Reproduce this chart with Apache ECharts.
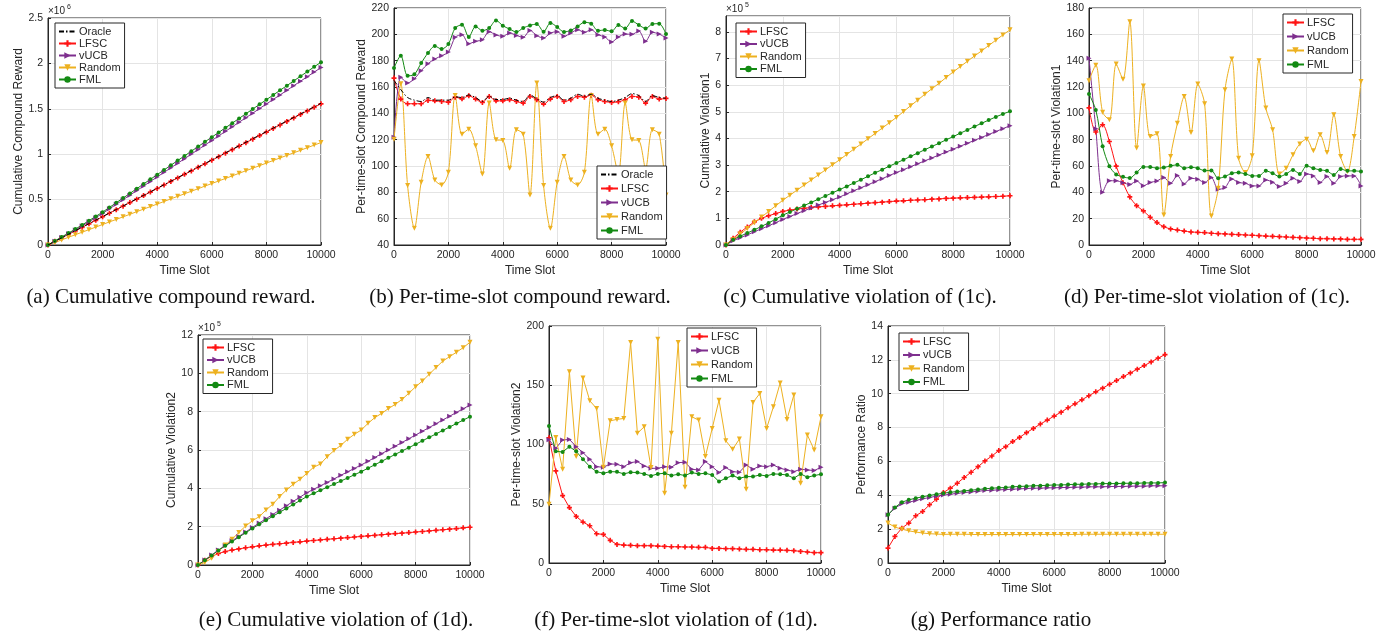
<!DOCTYPE html>
<html>
<head>
<meta charset="utf-8">
<title>Results</title>
<script src="https://cdn.jsdelivr.net/npm/echarts@6/dist/echarts.min.js"></script>
<style>
html,body{margin:0;padding:0;background:#fff;}
#chart{width:1399px;height:639px;}
</style>
</head>
<body>
<div id="chart"></div>
<script>
// time slots where the curves are sampled
const slots = [0,250,500,750,1000,1250,1500,1750,2000,2250,2500,2750,3000,3250,3500,3750,4000,4250,4500,4750,5000,
  5250,5500,5750,6000,6250,6500,6750,7000,7250,7500,7750,8000,8250,8500,8750,9000,9250,9500,9750,10000];

// (a) cumulative compound reward, x10^6
const rewCumOracle = [0,0.040,0.079,0.118,0.157,0.196,0.235,0.274,0.313,0.352,0.391,0.430,0.469,0.508,0.547,0.586,0.625,0.664,0.703,0.742,0.781,0.820,0.859,0.898,0.937,0.976,1.015,1.054,1.093,1.132,1.171,1.210,1.249,1.288,1.327,1.366,1.405,1.444,1.483,1.522,1.561];
const rewCumLFSC   = [0,0.040,0.078,0.117,0.156,0.195,0.233,0.272,0.311,0.350,0.389,0.428,0.467,0.505,0.544,0.583,0.622,0.661,0.700,0.739,0.778,0.816,0.855,0.894,0.933,0.972,1.011,1.050,1.089,1.127,1.166,1.205,1.244,1.283,1.322,1.361,1.400,1.438,1.477,1.516,1.555];
const rewCumVUCB   = [0,0.041,0.082,0.123,0.165,0.210,0.255,0.301,0.348,0.398,0.448,0.499,0.549,0.599,0.649,0.699,0.750,0.800,0.850,0.900,0.950,1.001,1.051,1.101,1.151,1.201,1.252,1.302,1.352,1.402,1.452,1.503,1.553,1.603,1.653,1.703,1.754,1.804,1.854,1.904,1.954];
const rewCumRandom = [0,0.028,0.056,0.085,0.113,0.141,0.169,0.197,0.226,0.254,0.282,0.310,0.338,0.367,0.395,0.423,0.451,0.479,0.508,0.536,0.564,0.592,0.620,0.649,0.677,0.705,0.733,0.761,0.790,0.818,0.846,0.874,0.902,0.931,0.959,0.987,1.015,1.043,1.072,1.100,1.128];
const rewCumFML    = [0,0.044,0.089,0.131,0.175,0.221,0.268,0.315,0.362,0.414,0.465,0.517,0.568,0.620,0.672,0.723,0.775,0.826,0.878,0.930,0.981,1.033,1.084,1.136,1.188,1.239,1.291,1.342,1.394,1.446,1.497,1.549,1.600,1.652,1.704,1.755,1.807,1.858,1.910,1.962,2.013];

// (b) per-time-slot compound reward
const rewSlotOracle = [165,158,152,150,149,152,150,150,150,152.5,152,154,152,149,153,150.5,150.5,151.5,150,149,154,151,148.5,152,153.5,150,151.5,154.5,153,154.5,151.5,150,149,150,152,155,153.5,149,153.5,152,151.5];
const rewSlotLFSC   = [166.8,150.8,147.3,147.3,147.3,149.8,149.5,149,148.5,152.3,151,153.3,150.8,148.3,152.8,149.5,149.5,150.3,149,147.8,152.8,150.3,147,150.8,152.8,149,150.3,152.8,152.3,153.8,150.3,149,148.3,148.8,150.3,152.8,152.3,147.8,152.8,150.8,151.3];
const rewSlotVUCB   = [121.9,167.5,163,166.3,172.4,177.7,181.2,183.8,186.5,197.7,199.7,192.9,194.7,195.9,202,199.5,198.5,201,199.2,197.7,203,199,197.2,201,202,198.5,201,203.5,201.5,203.5,199.7,198,194.2,198,200.2,200,202.5,194.7,201.5,200.2,197.2];
const rewSlotRandom = [120.4,162.5,85.1,52.7,87.7,107.2,89.4,85.6,95.3,153.6,124.2,128,115.3,94,147.8,119.9,119.4,98.3,127.5,124.2,78,163,85.1,52.7,87.7,107.2,89.4,85.6,95.3,153.6,124.2,128,115.3,94,147.8,119.9,119.4,98.3,127.5,124.2,78];
const rewSlotFML    = [174.4,183.8,168.5,169.6,178.2,185.8,191.1,188.8,192.6,204.8,207.3,198,206,202.8,204.8,210.6,206.6,204,201.8,204.8,206.8,207.8,202,208.6,205.6,201.8,203,206,209.1,208.1,202.8,203.3,202.3,207,204.5,210.1,207.1,204.5,207.8,208.1,200.2];

// (c) cumulative violation of (1c), x10^5
const vio1CumLFSC   = [0,0.25,0.48,0.68,0.87,1.0,1.1,1.18,1.26,1.31,1.35,1.38,1.41,1.43,1.45,1.47,1.49,1.51,1.53,1.55,1.57,1.59,1.61,1.63,1.65,1.66,1.68,1.69,1.7,1.72,1.73,1.75,1.76,1.77,1.78,1.79,1.8,1.81,1.82,1.83,1.85];
const vio1CumVUCB   = [0,0.16,0.27,0.38,0.5,0.61,0.72,0.84,0.96,1.07,1.18,1.29,1.39,1.5,1.6,1.7,1.8,1.92,2.04,2.15,2.26,2.38,2.49,2.61,2.72,2.83,2.94,3.05,3.16,3.27,3.38,3.49,3.6,3.71,3.82,3.93,4.04,4.15,4.26,4.37,4.48];
const vio1CumRandom = [0,0.2,0.41,0.62,0.84,1.05,1.26,1.47,1.68,1.87,2.06,2.25,2.44,2.63,2.82,3.01,3.2,3.4,3.6,3.79,3.99,4.19,4.39,4.59,4.79,5.01,5.23,5.44,5.66,5.87,6.07,6.29,6.5,6.7,6.9,7.1,7.29,7.49,7.69,7.89,8.08];
const vio1CumFML    = [0,0.2,0.33,0.45,0.57,0.7,0.83,0.97,1.12,1.24,1.36,1.48,1.6,1.72,1.84,1.96,2.08,2.2,2.33,2.45,2.58,2.71,2.83,2.96,3.08,3.2,3.33,3.45,3.58,3.7,3.82,3.95,4.07,4.2,4.32,4.45,4.57,4.69,4.81,4.92,5.02];

// (d) per-time-slot violation of (1c)
const vio1SlotLFSC   = [104.2,85.8,91.3,78.6,59.9,47.3,36.5,29.9,25.9,21.1,17,13.9,12.2,11.4,10.6,9.9,9.6,9.4,8.9,8.6,8.4,8.1,7.9,7.6,7.4,7.1,6.8,6.6,6.3,6.1,5.8,5.6,5.3,5.1,4.8,4.8,4.6,4.6,4.3,4.3,4.3];
const vio1SlotVUCB   = [141.9,88.3,40,48.8,48.8,47.3,46,48.6,45,47.5,48.7,51.2,46.9,52.7,46.4,50.7,49.9,47.4,51.2,42.3,43.6,50.2,47.4,46.9,44.9,44.9,49.4,47.7,44.4,46.9,50.7,48.2,54,52.5,47.4,52,46.9,52,52.5,52.5,44.9];
const vio1SlotRandom = [124.8,136.6,100.9,95.1,137.4,125.8,169.6,73.7,120.8,82.5,84.5,22.8,67.2,92.5,112.8,85.4,122.2,107.3,22.1,43.1,117.9,141.2,65.9,55,67.7,140,104,87.5,54,58.3,68.5,76.8,80.4,71.5,83.7,70.2,98.9,67.2,55.8,82.4,124.2];
const vio1SlotFML    = [114.7,102.6,75,59.9,53.6,51.8,50.8,55,59.3,59.3,58.3,58.8,60.1,60.9,58.3,59.1,58.3,56.5,56.5,50.7,52,54.5,55,54,52.5,52.5,56.3,54.5,52,54,57,54,60.1,58.3,57,56.3,53.2,57.8,56.3,56.3,55.8];

// (e) cumulative violation of (1d), x10^5
const vio2CumLFSC   = [0,0.25,0.45,0.6,0.7,0.78,0.84,0.9,0.95,1.0,1.04,1.08,1.11,1.14,1.18,1.21,1.25,1.28,1.31,1.34,1.37,1.4,1.43,1.46,1.49,1.52,1.55,1.58,1.61,1.64,1.66,1.69,1.72,1.75,1.78,1.81,1.84,1.87,1.9,1.94,1.97];
const vio2CumVUCB   = [0,0.26,0.52,0.78,1.02,1.26,1.49,1.72,1.96,2.19,2.41,2.64,2.86,3.09,3.32,3.54,3.77,3.95,4.13,4.31,4.49,4.68,4.86,5.04,5.22,5.41,5.61,5.81,6.0,6.2,6.39,6.59,6.78,6.98,7.17,7.37,7.57,7.76,7.96,8.15,8.35];
const vio2CumRandom = [0,0.13,0.35,0.7,1.04,1.34,1.7,2.03,2.31,2.52,2.87,3.17,3.57,3.91,4.21,4.47,4.78,5.1,5.27,5.65,5.97,6.24,6.56,6.82,7.04,7.39,7.69,7.91,8.16,8.38,8.64,8.96,9.3,9.6,9.95,10.3,10.64,10.87,11.1,11.34,11.62];
const vio2CumFML    = [0,0.25,0.5,0.76,1.0,1.22,1.45,1.68,1.91,2.12,2.33,2.54,2.75,2.95,3.16,3.36,3.57,3.74,3.9,4.06,4.22,4.38,4.54,4.71,4.87,5.05,5.23,5.41,5.59,5.77,5.95,6.12,6.3,6.48,6.66,6.84,7.02,7.2,7.38,7.56,7.74];

// (f) per-time-slot violation of (1d)
const vio2SlotLFSC   = [105.7,77.7,56.9,46.8,39.3,34.5,31.4,24.7,24.1,19.1,15.7,15.1,14.9,14.6,14.6,14.6,14.3,14,13.7,13.7,13.5,13.5,13.2,13.2,12.3,12.3,12.1,12.1,11.8,11.5,11.5,11.2,11.2,10.9,10.9,10.7,10.4,9.8,9.3,8.7,8.7];
const vio2SlotVUCB   = [104,96.8,103.8,104.3,98.2,93.1,87.5,81.3,80.8,83.6,83.3,81.3,84.7,85.6,81.9,79.9,79.9,81.3,80.8,84.7,85,79.1,78.5,85.6,81.3,76.3,80.5,77.1,76.6,82.7,79.1,81.9,81.3,82.7,79.9,78.5,77.1,79.1,78.5,78,80.8];
const vio2SlotRandom = [49.6,106,79.1,161.3,89.8,156.2,136.9,130.4,80.8,120,121.2,122,186,109.4,115,80.5,188.8,58.9,109.4,186,64,123.4,120.6,89.8,113.6,137.4,103.2,95.9,104.6,62.3,135.5,143.1,113.6,131.8,152,121.2,141.7,67.3,108,95.4,123.4];
const vio2SlotFML    = [115.6,94.2,93.7,98.2,94.2,87.5,81.3,77.1,75.7,77.1,76.9,75.2,76.6,76.3,75.2,73.5,75.2,75.7,73.8,74.9,73.8,76.3,75.2,75.7,74.3,68.7,71.5,73.8,71.5,72.9,72.9,74.3,73.5,75.2,74.9,74.3,71.5,75.2,72.4,73.8,74.9];

// (g) performance ratio
const ratioLFSC   = [0.88,1.57,2.06,2.36,2.79,3.04,3.44,3.77,4.16,4.42,4.71,5.05,5.36,5.69,6.03,6.32,6.64,6.87,7.17,7.42,7.7,7.95,8.21,8.44,8.68,8.91,9.17,9.4,9.64,9.88,10.11,10.33,10.56,10.78,11.01,11.23,11.45,11.66,11.88,12.1,12.31];
const ratioVUCB   = [2.85,3.24,3.5,3.59,3.69,3.79,3.87,3.95,4.01,4.06,4.12,4.16,4.2,4.24,4.28,4.3,4.32,4.34,4.36,4.38,4.4,4.42,4.42,4.44,4.44,4.46,4.46,4.48,4.48,4.5,4.5,4.5,4.52,4.52,4.52,4.54,4.54,4.54,4.56,4.56,4.56];
const ratioRandom = [2.36,2.12,2.0,1.9,1.83,1.77,1.73,1.71,1.69,1.7,1.7,1.7,1.69,1.68,1.68,1.68,1.68,1.68,1.68,1.68,1.68,1.69,1.69,1.69,1.69,1.69,1.69,1.69,1.7,1.7,1.7,1.7,1.7,1.7,1.7,1.7,1.7,1.7,1.7,1.7,1.7];
const ratioFML    = [2.85,3.28,3.59,3.73,3.83,3.91,3.99,4.06,4.12,4.18,4.22,4.26,4.3,4.34,4.38,4.42,4.44,4.46,4.5,4.52,4.54,4.56,4.57,4.59,4.61,4.61,4.63,4.65,4.65,4.67,4.67,4.69,4.69,4.69,4.71,4.71,4.71,4.73,4.73,4.73,4.75];

const FONT = "'Liberation Sans', Arial, sans-serif";
const SERIF = "'Liberation Serif', 'Times New Roman', serif";
const INK = "#262626";

const STYLE = {
  Oracle: { color: "#000000", symbol: "none", rotate: 0, dash: [5, 2, 1.5, 2] },
  LFSC:   { color: "#ff1414", symbol: "path://M-1,-3H1V-1H3V1H1V3H-1V1H-3V-1H-1Z", rotate: 0 },
  vUCB:   { color: "#7e2f8e", symbol: "triangle", rotate: -90 },
  Random: { color: "#edb120", symbol: "triangle", rotate: 180 },
  FML:    { color: "#138a13", symbol: "circle", rotate: 0 }
};

// one entry per subplot: box [left, top, width, height], y range, labels, legend spot
const panels = [
  { box: [48, 18, 273, 227], y: [0, 2.5, 0.5], yName: "Cumulative Compound Reward", yGap: 21,
    legend: [55, 23], gap: 1, exp: "6", smooth: 0,
    lines: { Oracle: rewCumOracle, LFSC: rewCumLFSC, vUCB: rewCumVUCB, Random: rewCumRandom, FML: rewCumFML } },
  { box: [394, 8, 272, 237], y: [40, 220, 20], yName: "Per-time-slot Compound Reward", yGap: 24,
    legend: [597, 166], gap: 3, smooth: 0.3,
    lines: { Oracle: rewSlotOracle, LFSC: rewSlotLFSC, vUCB: rewSlotVUCB, Random: rewSlotRandom, FML: rewSlotFML } },
  { box: [726, 16, 284, 229], y: [0, 8.6, 1], yName: "Cumulative Violation1", yGap: 12,
    legend: [736, 23], gap: 1.5, exp: "5", smooth: 0,
    lines: { LFSC: vio1CumLFSC, vUCB: vio1CumVUCB, Random: vio1CumRandom, FML: vio1CumFML } },
  { box: [1089, 8, 272, 237], y: [0, 180, 20], yName: "Per-time-slot Violation1", yGap: 24,
    legend: [1283, 14], gap: 3, smooth: 0.3,
    lines: { LFSC: vio1SlotLFSC, vUCB: vio1SlotVUCB, Random: vio1SlotRandom, FML: vio1SlotFML } },
  { box: [198, 335, 272, 230], y: [0, 12, 2], yName: "Cumulative Violation2", yGap: 19,
    legend: [203, 339], gap: 1.5, exp: "5", smooth: 0,
    lines: { LFSC: vio2CumLFSC, vUCB: vio2CumVUCB, Random: vio2CumRandom, FML: vio2CumFML } },
  { box: [549, 326, 272, 237], y: [0, 200, 50], yName: "Per-time-slot Violation2", yGap: 25,
    legend: [687, 328], gap: 3, smooth: 0,
    lines: { LFSC: vio2SlotLFSC, vUCB: vio2SlotVUCB, Random: vio2SlotRandom, FML: vio2SlotFML } },
  { box: [888, 326, 277, 237], y: [0, 14, 2], yName: "Performance Ratio", yGap: 19,
    legend: [899, 333], gap: 2.5, smooth: 0,
    lines: { LFSC: ratioLFSC, vUCB: ratioVUCB, Random: ratioRandom, FML: ratioFML } }
];

const captions = [
  { text: "(a) Cumulative compound reward.", x: 171, y: 297 },
  { text: "(b) Per-time-slot compound reward.", x: 520, y: 297 },
  { text: "(c) Cumulative violation of (1c).", x: 860, y: 297 },
  { text: "(d) Per-time-slot violation of (1c).", x: 1207, y: 297 },
  { text: "(e) Cumulative violation of (1d).", x: 336, y: 620 },
  { text: "(f) Per-time-slot violation of (1d).", x: 676, y: 620 },
  { text: "(g) Performance ratio", x: 1001, y: 620 }
];

const grids = [], xAxes = [], yAxes = [], series = [], legends = [], graphics = [];

panels.forEach((p, i) => {
  const [l, t, w, h] = p.box;
  grids.push({ left: l, top: t, width: w, height: h, show: true, borderColor: INK, borderWidth: 1, containLabel: false });

  const axisCommon = {
    gridIndex: i,
    axisLine: { show: true, onZero: false, lineStyle: { color: INK, width: 1 } },
    axisTick: { show: true, inside: true, length: 3, lineStyle: { color: INK } },
    axisLabel: { color: INK, fontSize: 10.5, fontFamily: FONT, margin: 5 },
    splitLine: { show: true, lineStyle: { color: "#e4e4e4", width: 1 } },
    nameLocation: "middle",
    nameTextStyle: { color: INK, fontSize: 12, fontFamily: FONT }
  };

  xAxes.push(Object.assign({}, axisCommon, {
    type: "value", min: 0, max: 10000, interval: 2000, name: "Time Slot", nameGap: 20,
    axisLabel: Object.assign({}, axisCommon.axisLabel, { formatter: (v) => String(v) })
  }));
  yAxes.push(Object.assign({}, axisCommon, {
    type: "value", min: p.y[0], max: p.y[1], interval: p.y[2], name: p.yName, nameGap: p.yGap,
    axisLabel: Object.assign({}, axisCommon.axisLabel, { showMaxLabel: p.y[1] % p.y[2] === 0, formatter: (v) => String(v) })
  }));

  const names = Object.keys(p.lines);
  names.forEach((nm) => {
    const st = STYLE[nm];
    series.push({
      type: "line",
      name: nm,
      xAxisIndex: i,
      yAxisIndex: i,
      data: slots.map((x, k) => [x, p.lines[nm][k]]),
      symbol: st.symbol,
      symbolSize: nm === "FML" ? 4 : 5,
      symbolRotate: st.rotate,
      showSymbol: st.symbol !== "none",
      showAllSymbol: true,
      smooth: p.smooth,
      lineStyle: { color: st.color, width: 1, type: st.dash || "solid" },
      itemStyle: { color: st.color },
      emphasis: { disabled: true },
      z: nm === "Oracle" ? 3 : 2
    });
  });

  legends.push({
    // Oracle has no marker, so hide the legend symbol and keep its dash-dot line
    data: names.map((nm) => nm === "Oracle" ? { name: nm, itemStyle: { opacity: 0 } } : nm),
    left: p.legend[0],
    top: p.legend[1],
    orient: "vertical",
    backgroundColor: "#ffffff",
    borderColor: INK,
    borderWidth: 1,
    borderRadius: 0,
    padding: [3, 4, 3, 3],
    itemGap: p.gap,
    itemWidth: 17,
    itemHeight: 8,
    selectedMode: false,
    textStyle: { color: INK, fontSize: 11, fontFamily: FONT, padding: [0, 0, 0, -2] }
  });

  if (p.exp) {
    graphics.push({ type: "text", x: l, y: t - 7, style: { text: "×10", fill: INK, font: "10px " + FONT, textVerticalAlign: "middle" } });
    graphics.push({ type: "text", x: l + 19, y: t - 11, style: { text: p.exp, fill: INK, font: "7px " + FONT, textVerticalAlign: "middle" } });
  }
});

captions.forEach((c) => {
  graphics.push({ type: "text", x: c.x, y: c.y, style: { text: c.text, fill: "#111", font: "21px " + SERIF, textAlign: "center", textVerticalAlign: "middle" } });
});

const chart = echarts.init(document.getElementById("chart"));
chart.setOption({
  animation: false,
  backgroundColor: "#ffffff",
  grid: grids,
  xAxis: xAxes,
  yAxis: yAxes,
  legend: legends,
  series: series,
  graphic: graphics
});
</script>
</body>
</html>
